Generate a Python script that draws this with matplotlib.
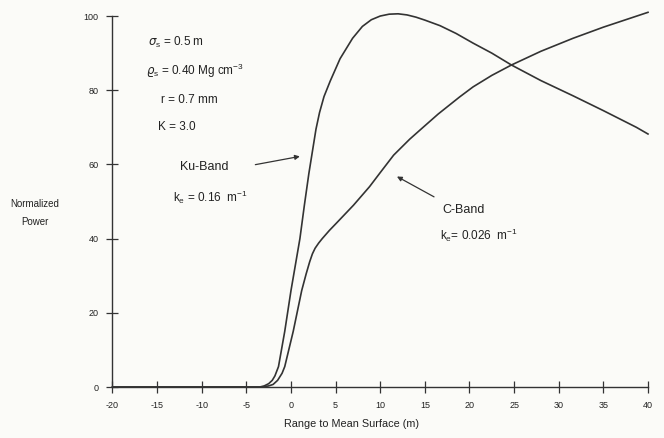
import matplotlib
matplotlib.use("Agg")
import matplotlib.pyplot as plt

plt.rcParams["font.family"] = ["Liberation Sans", "DejaVu Sans"]
plt.rcParams["mathtext.fontset"] = "custom"
plt.rcParams["mathtext.rm"] = "Liberation Sans"
plt.rcParams["mathtext.it"] = "DejaVu Sans:italic"
plt.rcParams["axes.unicode_minus"] = False

# Ku-band return
ku_x = [-20, -5, -3.5, -3.0, -2.5, -2.1, -1.8, -1.4, -0.7, 0.0, 0.5, 1.0, 1.5, 2.0,
        2.4, 2.8, 3.2, 3.7, 4.4, 5.5, 6.9, 8.0, 9.0, 10.0, 11.0, 12.0, 13.0, 14.0,
        15.0, 16.7, 18.5, 20.4, 22.5, 24.7, 28.0, 31.6, 35.0, 38.7, 40.0]
ku_y = [0, 0, 0, 0.3, 0.9, 1.8, 3.0, 5.5, 15, 26, 33, 40, 49, 57.5,
        63.5, 69.5, 74, 78.3, 82.5, 88.5, 94, 97.2, 99.0, 100.0, 100.5, 100.6, 100.3, 99.7,
        98.9, 97.4, 95.3, 92.7, 90.0, 86.8, 82.6, 78.5, 74.5, 70, 68.2]

# C-band return
c_x = [-20, -3.2, -2.5, -2.0, -1.5, -1.0, -0.7, 0.25, 1.2, 1.7, 2.1, 2.4, 2.7,
       3.1, 3.5, 4.3, 5.1, 7.0, 8.8, 10.0, 11.5, 13.3, 14.8, 16.5, 18.9, 20.4,
       22.5, 24.7, 28.0, 31.6, 35.0, 40.0]
c_y = [0, 0, 0.3, 0.7, 1.8, 3.7, 5.5, 15, 26, 30.5, 33.8, 35.9, 37.4,
       38.8, 40.0, 42.2, 44.2, 49, 54, 57.8, 62.5, 66.8, 70, 73.6, 78.2, 80.9,
       84.0, 86.8, 90.5, 94, 97, 101]

xticks = list(range(-20, 41, 5))
yticks = list(range(0, 101, 20))

params = [r"$\sigma_\mathrm{s}$ = 0.5 m",
          r"$\varrho_\mathrm{s}$ = 0.40 Mg cm$^{-3}$",
          "r = 0.7 mm",
          "K = 3.0"]

ink = "#333333"
txt = "#222222"
bg = "#fbfbf8"

fig = plt.figure(figsize=(6.64, 4.38), dpi=100, facecolor=bg)
ax = fig.add_axes([0.1694, 0.1164, 0.8065, 0.847])
ax.set_facecolor(bg)

ax.plot(ku_x, ku_y, color=ink, lw=1.2, clip_on=False)
ax.plot(c_x, c_y, color=ink, lw=1.2, clip_on=False)

ax.set_xlim(-20, 40)
ax.set_ylim(0, 100)
ax.set_xticks(xticks)
ax.set_yticks(yticks)
ax.spines["top"].set_visible(False)
ax.spines["right"].set_visible(False)
for s in ("left", "bottom"):
    ax.spines[s].set_color(ink)
    ax.spines[s].set_linewidth(1.0)
ax.tick_params(direction="inout", length=8, width=0.9, color=ink,
               labelsize=6.5, labelcolor=txt)
ax.tick_params(axis="x", pad=6)
ax.tick_params(axis="y", pad=6)

ax.set_xlabel("Range to Mean Surface (m)", fontsize=7.8, color=txt, va="center")
ax.xaxis.set_label_coords(0.447, -0.10)
ax.set_ylabel("Normalized\nPower", fontsize=7, color=txt, rotation=0,
              ha="center", va="center", linespacing=2.0)
ax.yaxis.set_label_coords(-0.145, 0.469)

# parameter block
py = [93, 85.2, 77.4, 70.1]
px = [-16.0, -16.2, -14.6, -14.9]
for t, x, y in zip(params, px, py):
    ax.text(x, y, t, fontsize=8.5, color=txt, va="center")

# band labels with arrows
ax.annotate("", xy=(1.3, 62.3), xytext=(-4.3, 59.8),
            arrowprops=dict(arrowstyle="-|>", color=ink, lw=0.9, mutation_scale=7))
ax.text(-12.4, 59.3, "Ku-Band", fontsize=9, color=txt, va="center")
ax.text(-13.2, 51.2, r"k$_\mathrm{e}$ = 0.16  m$^{-1}$", fontsize=8.5, color=txt, va="center")

ax.annotate("", xy=(11.6, 57.1), xytext=(16.3, 50.9),
            arrowprops=dict(arrowstyle="-|>", color=ink, lw=0.9, mutation_scale=7))
ax.text(17.0, 47.7, "C-Band", fontsize=9, color=txt, va="center")
ax.text(16.7, 41.0, r"k$_\mathrm{e}$= 0.026  m$^{-1}$", fontsize=8.5, color=txt, va="center")

fig.savefig("out.png", dpi=100, facecolor=bg)
